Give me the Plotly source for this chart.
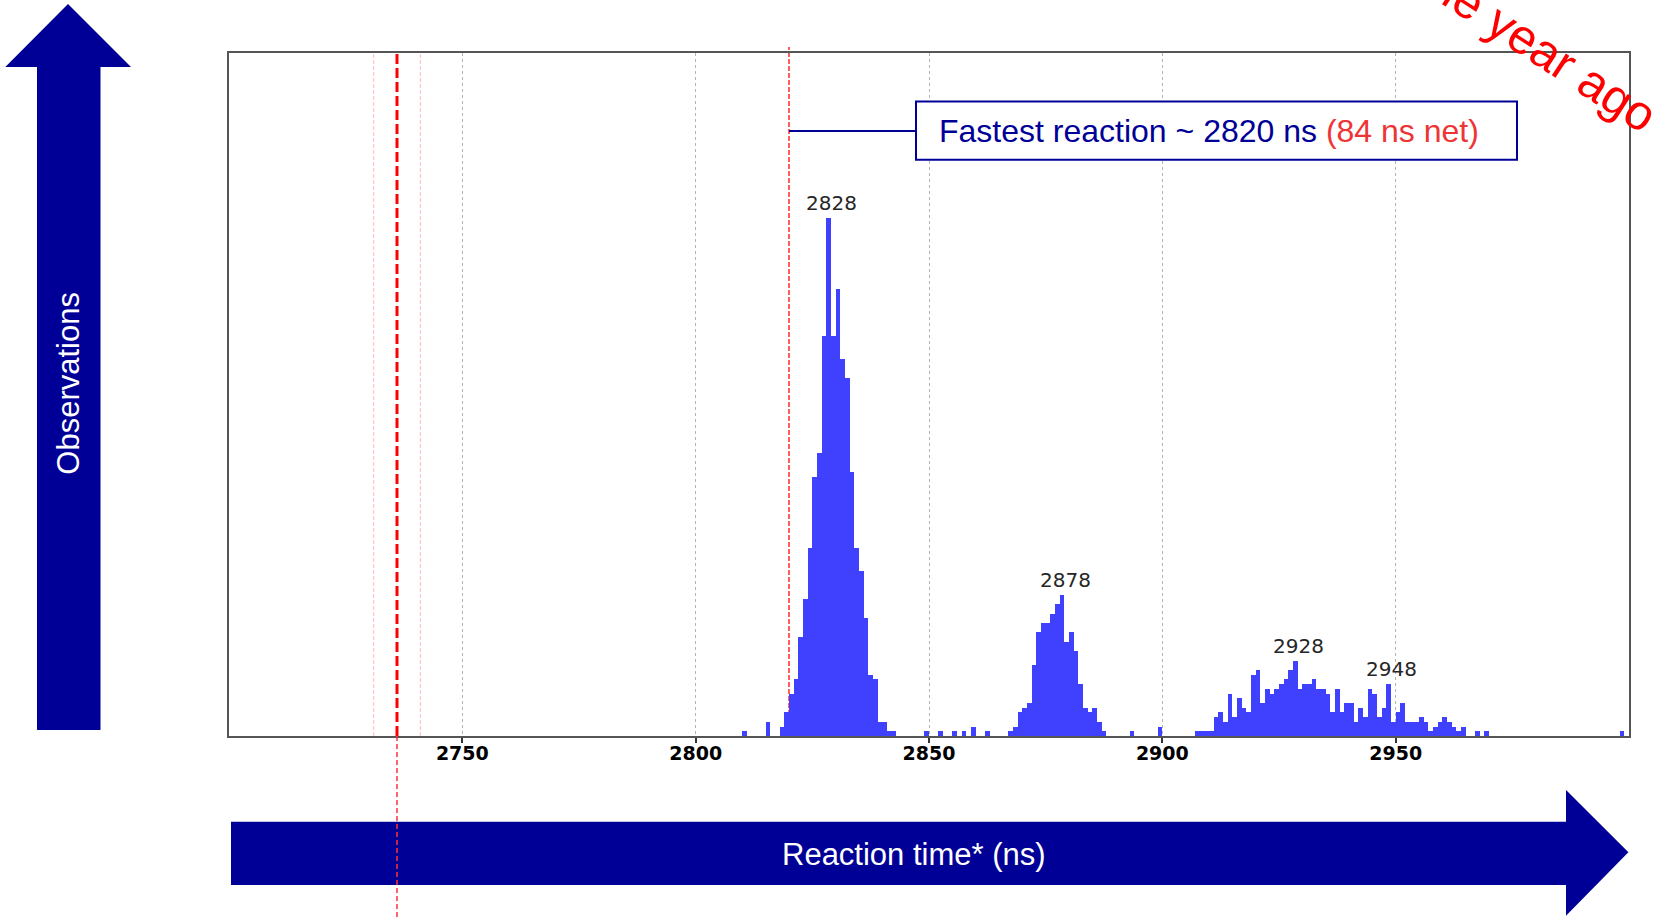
import plotly.graph_objects as go

# ---------------- data ----------------
REACTION_NS = [
    2810, 2815, 2818, 2819, 2820, 2821, 2822, 2823, 2824, 2825, 2826, 2827, 2828,
    2829, 2830, 2831, 2832, 2833, 2834, 2835, 2836, 2837, 2838, 2839, 2840, 2841,
    2842, 2849, 2852, 2855, 2857, 2859, 2862,
    2867, 2868, 2869, 2870, 2871, 2872, 2873, 2874, 2875, 2876, 2877, 2878, 2879,
    2880, 2881, 2882, 2883, 2884, 2885, 2886, 2887, 2893, 2899,
    2907, 2908, 2909, 2910, 2911, 2912, 2913, 2914, 2915, 2916, 2917, 2918, 2919,
    2920, 2921, 2922, 2923, 2924, 2925, 2926, 2927, 2928, 2929, 2930, 2931, 2932,
    2933, 2934, 2935, 2936, 2937, 2938, 2939, 2940, 2941, 2942, 2943, 2944, 2945,
    2946, 2947, 2948, 2949, 2950, 2951, 2952, 2953, 2954, 2955, 2956, 2957, 2958,
    2959, 2960, 2961, 2962, 2963, 2964, 2967, 2969, 2998,
]
OBSERVATIONS = [
    1, 3, 2, 5, 9, 12, 21, 29, 40, 55, 60, 85, 110,
    85, 95, 80, 76, 56, 40, 35, 25, 13, 12, 3, 3, 1,
    1, 1, 1, 1, 1, 2, 1,
    1, 2, 5, 6, 7, 15, 22, 24, 24, 26, 28, 30, 20,
    22, 18, 11, 6, 5, 6, 3, 1, 1, 2,
    1, 1, 1, 1, 4, 5, 3, 9, 4, 8, 6, 5, 13,
    14, 7, 10, 9, 10, 11, 12, 14, 16, 10, 11, 11, 12,
    10, 10, 9, 5, 10, 5, 7, 7, 3, 6, 4, 10, 9,
    4, 6, 11, 3, 5, 7, 3, 3, 3, 4, 3, 1, 2,
    3, 4, 3, 2, 1, 2, 1, 1, 1,
]
PEAK_LABELS = [2828, 2878, 2928, 2948]
X_TICKS = [2750, 2800, 2850, 2900, 2950]
X_MIN, X_MAX = 2700, 3000
Y_MAX = 145
OFFSET_NS = 2736          # measurement offset (dashed red line)
OFFSET_SPREAD = 5         # faint lines either side
FASTEST_NS = 2820
NET_NS = FASTEST_NS - OFFSET_NS

BOX_TEXT = f"Fastest reaction ~ {FASTEST_NS} ns "
BOX_TEXT_RED = f"({NET_NS} ns net)"
X_TITLE = "Reaction time* (ns)"
Y_TITLE = "Observations"
CORNER_TEXT = "One year ago"

# ---------------- layout helpers ----------------
FIG_W, FIG_H = 1658, 918
L, T, W, H = 229, 53, 1400, 683
NAVY = "#000096"
SANS = "Liberation Sans, Arial, sans-serif"


def px(x):
    return (x - L) / W


def py(y):
    return (T + H - y) / H


def path(points):
    s = "M " + " L ".join(f"{px(a):.5f} {py(b):.5f}" for a, b in points)
    return s + " Z"


fig = go.Figure()
fig.add_trace(go.Bar(
    x=REACTION_NS, y=OBSERVATIONS, width=1, offset=0,
    marker=dict(color="#4040ff", line=dict(width=0)),
    hoverinfo="x+y", showlegend=False,
))

shapes = []
# faint band lines around offset
for dx in (-OFFSET_SPREAD, OFFSET_SPREAD):
    shapes.append(dict(type="line", xref="x", yref="paper",
                       x0=OFFSET_NS + dx, x1=OFFSET_NS + dx, y0=0, y1=1,
                       line=dict(color="#ffb8b8", width=1, dash="4px,2px"),
                       layer="below"))
# thick dashed offset line
shapes.append(dict(type="line", xref="x", yref="paper",
                   x0=OFFSET_NS, x1=OFFSET_NS, y0=0, y1=1,
                   line=dict(color="#ff0000", width=3, dash="10px,4px"),
                   layer="below"))
# fastest reaction line
shapes.append(dict(type="line", xref="x", yref="paper",
                   x0=FASTEST_NS, x1=FASTEST_NS, y0=0, y1=py(47),
                   line=dict(color="#ff2a2a", width=1.5, dash="5px,2px"),
                   layer="below"))

# vertical arrow
shapes.append(dict(type="path", xref="paper", yref="paper",
                   path=path([(37, 67), (37, 730), (100.5, 730), (100.5, 67),
                              (131, 67), (68, 4), (5.3, 67)]),
                   fillcolor=NAVY, line=dict(width=0), layer="above"))
# horizontal arrow
shapes.append(dict(type="path", xref="paper", yref="paper",
                   path=path([(231, 821.7), (1566, 821.7), (1566, 790),
                              (1628.4, 852.3), (1566, 915.7), (1566, 885),
                              (231, 885)]),
                   fillcolor=NAVY, line=dict(width=0), layer="above"))
# offset line continuing below the plot
shapes.append(dict(type="line", xref="x", yref="paper",
                   x0=OFFSET_NS, x1=OFFSET_NS, y0=0, y1=py(918),
                   line=dict(color="#ff3030", width=1.5, dash="5px,3px"),
                   layer="above"))
# connector and box
fx = (FASTEST_NS - X_MIN) / (X_MAX - X_MIN)
shapes.append(dict(type="line", xref="paper", yref="paper",
                   x0=fx, x1=px(916), y0=py(131), y1=py(131),
                   line=dict(color=NAVY, width=2), layer="above"))
shapes.append(dict(type="rect", xref="paper", yref="paper",
                   x0=px(916), x1=px(1517), y0=py(101.5), y1=py(159.7),
                   fillcolor="white", line=dict(color=NAVY, width=2),
                   layer="above"))

annotations = []
lookup = dict(zip(REACTION_NS, OBSERVATIONS))
for p in PEAK_LABELS:
    annotations.append(dict(x=p + 0.5, y=lookup[p], xref="x", yref="y",
                            text=str(p), showarrow=False, yanchor="bottom",
                            xshift=3, yshift=1,
                            font=dict(family="DejaVu Sans", size=20,
                                      color="#262626")))
annotations.append(dict(xref="paper", yref="paper", x=px(937), y=py(131),
                        xanchor="left", yanchor="middle", showarrow=False,
                        text=BOX_TEXT + f"<span style='color:#ee3535'>{BOX_TEXT_RED}</span>",
                        font=dict(family=SANS, size=32, color=NAVY)))
annotations.append(dict(xref="paper", yref="paper", x=px(68.7), y=py(383),
                        xanchor="center", yanchor="middle", showarrow=False,
                        text=Y_TITLE, textangle=-90,
                        font=dict(family=SANS, size=31, color="white")))
annotations.append(dict(xref="paper", yref="paper", x=px(913.6), y=py(854),
                        xanchor="center", yanchor="middle", showarrow=False,
                        text=X_TITLE,
                        font=dict(family=SANS, size=31, color="white")))
annotations.append(dict(xref="paper", yref="paper", x=px(1527), y=py(39),
                        xanchor="center", yanchor="middle", showarrow=False,
                        text=CORNER_TEXT, textangle=33,
                        font=dict(family=SANS, size=49, color="#ff0000")))

fig.update_layout(
    width=FIG_W, height=FIG_H,
    margin=dict(l=L, r=FIG_W - L - W, t=T, b=FIG_H - T - H, pad=0),
    paper_bgcolor="white", plot_bgcolor="white",
    bargap=0, shapes=shapes, annotations=annotations,
    xaxis=dict(range=[X_MIN, X_MAX], tickvals=X_TICKS,
               ticktext=[str(v) for v in X_TICKS],
               showgrid=True, gridcolor="#b4b4b4", griddash="dot", gridwidth=1,
               zeroline=False, showline=True, mirror=True,
               linecolor="#555555", linewidth=1.5,
               ticks="outside", ticklen=5, tickcolor="#333333", tickwidth=1.5,
               ticklabelstandoff=-6,
               tickfont=dict(family="DejaVu Sans", size=19, color="black",
                             weight="bold")),
    yaxis=dict(range=[0, Y_MAX], showticklabels=False, ticks="",
               showgrid=False, zeroline=False, showline=True, mirror=True,
               linecolor="#555555", linewidth=1.5),
)

fig.write_html("out.html")
